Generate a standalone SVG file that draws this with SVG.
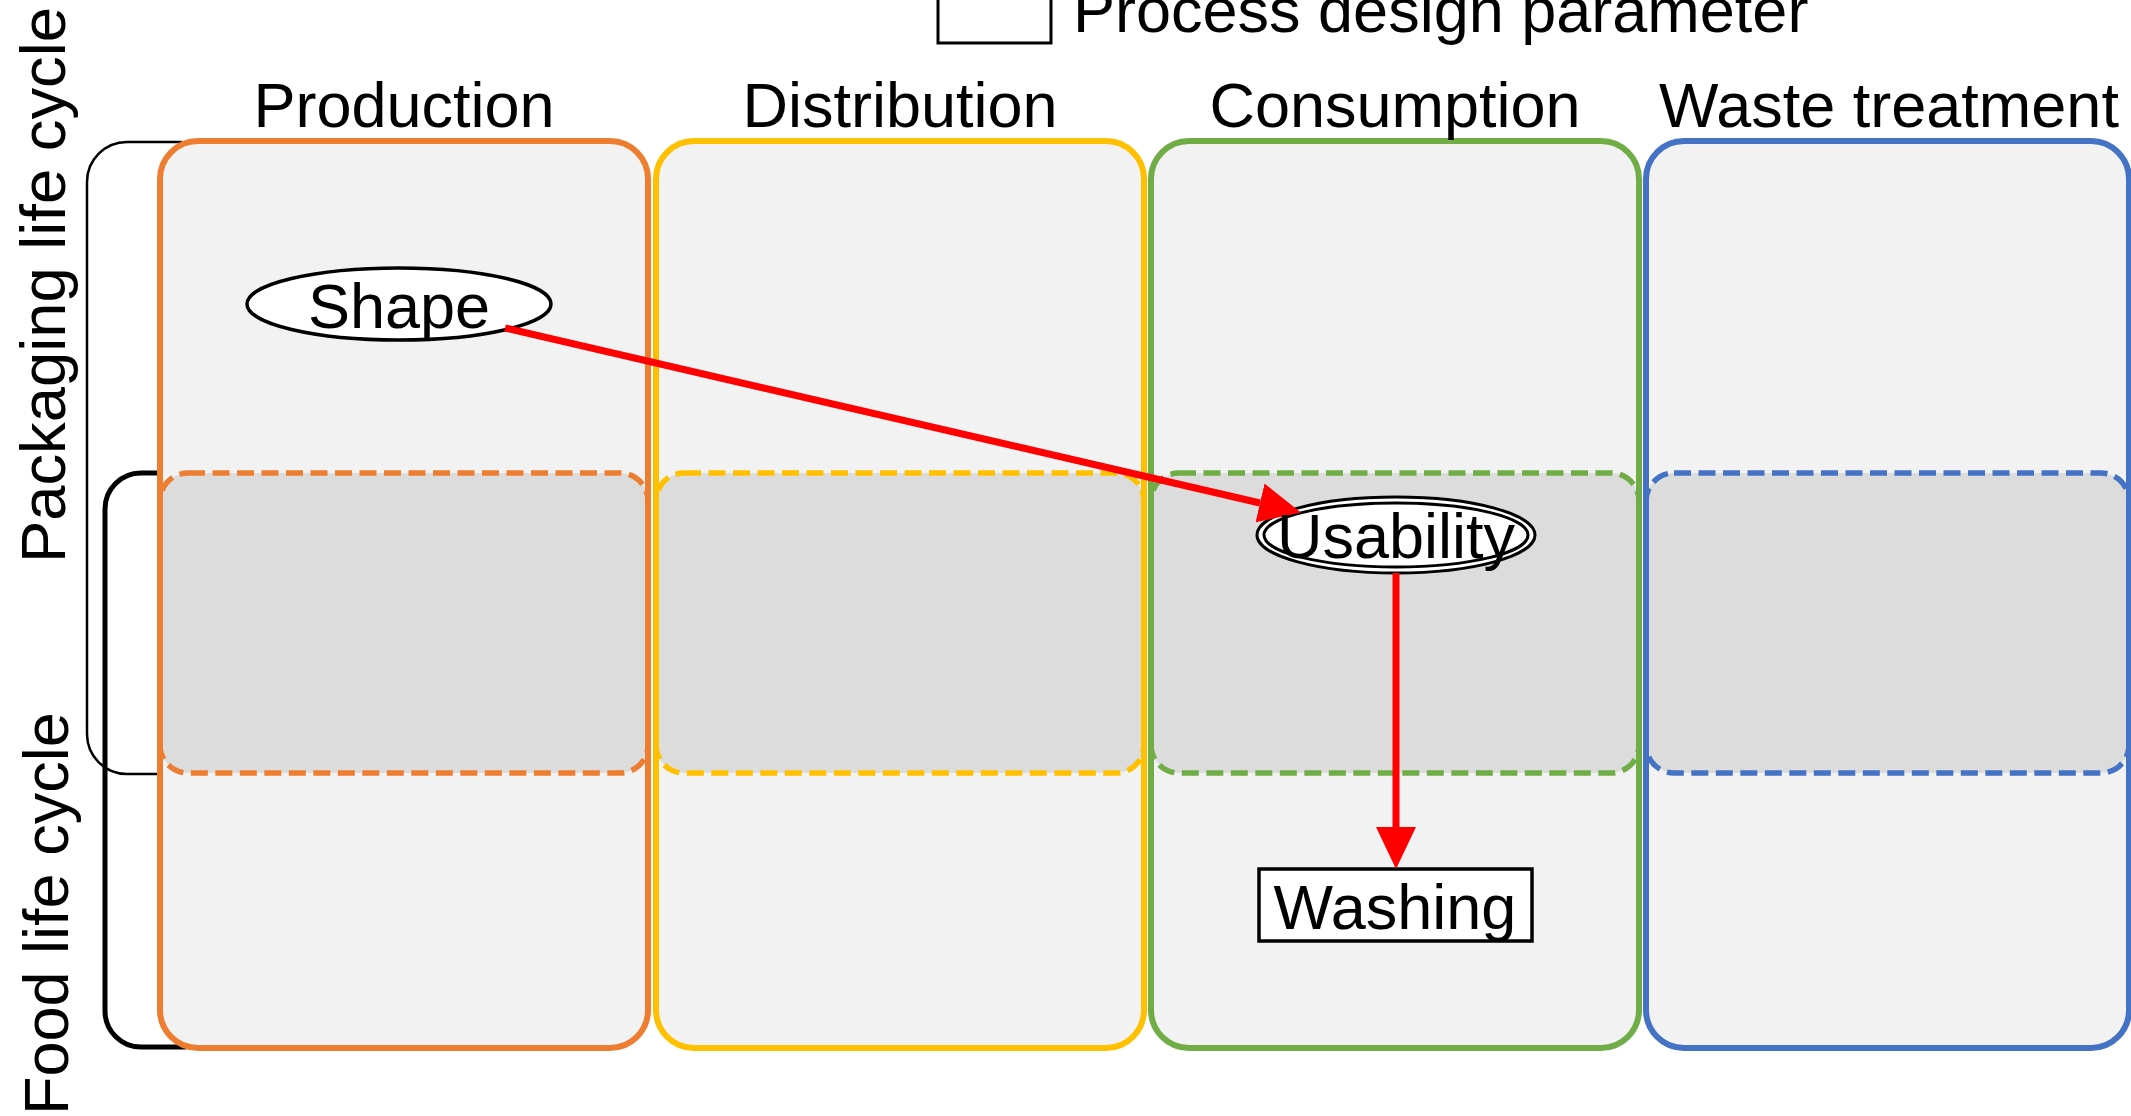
<svg xmlns="http://www.w3.org/2000/svg" width="2131" height="1116" viewBox="0 0 2131 1116">
<defs>
<style>
text{font-family:"Liberation Sans",Arial,sans-serif;font-size:63px;fill:#000}
.lbl{text-anchor:middle}
.fill{fill:#f2f2f2;stroke:none}
.solid{fill:none;stroke-width:6}
.dash{fill:#dcdcdc;stroke-width:5.5;stroke-dasharray:17 7.5}
.or{stroke:#ed7d31}.ye{stroke:#ffc000}.gr{stroke:#70ad47}.bl{stroke:#4472c4}
.conn{stroke:#ff0000;stroke-width:7;fill:none}
</style>
<marker id="ah" markerUnits="userSpaceOnUse" markerWidth="42" markerHeight="40" viewBox="0 0 42 40" refX="0" refY="20" orient="auto">
<path d="M0,0 L42,20 L0,40 z" fill="#ff0000"/>
</marker>
</defs>
<rect width="2131" height="1116" fill="#fff"/>

<g id="legend">
<rect x="938" y="-30" width="113" height="73" fill="none" stroke="#000" stroke-width="3"/>
<text x="1073" y="32">Process design parameter</text>
</g>

<g id="lifecycle-brackets">
<path id="packaging-bracket" d="M182,142 H127 A40,40 0 0 0 87,182 V734 A40,40 0 0 0 127,774 H182" fill="none" stroke="#000" stroke-width="2.5"/>
<path id="food-bracket" d="M190,473 H141 A36,36 0 0 0 105,509 V1011 A36,36 0 0 0 141,1047 H186" fill="none" stroke="#000" stroke-width="5"/>
<text transform="translate(65,563) rotate(-90)" textLength="556" lengthAdjust="spacingAndGlyphs">Packaging life cycle</text>
<text transform="translate(68,1115) rotate(-90)">Food life cycle</text>
</g>

<g id="stage-fills">
<rect class="fill" x="160" y="141" width="488" height="907" rx="38"/>
<rect class="fill" x="656" y="141" width="488" height="907" rx="38"/>
<rect class="fill" x="1151" y="141" width="488" height="907" rx="38"/>
<rect class="fill" x="1646" y="141" width="483" height="907" rx="38"/>
</g>

<g id="overlap-zone">
<rect class="dash or" x="160" y="473" width="488" height="300" rx="28"/>
<rect class="dash ye" x="656" y="473" width="488" height="300" rx="28"/>
<rect class="dash gr" x="1151" y="473" width="488" height="300" rx="28"/>
<rect class="dash bl" x="1646" y="473" width="483" height="300" rx="28"/>
</g>

<g id="production">
<rect class="solid or" x="160" y="141" width="488" height="907" rx="38"/>
<text class="lbl" x="404" y="127">Production</text>
</g>
<g id="distribution">
<rect class="solid ye" x="656" y="141" width="488" height="907" rx="38"/>
<text class="lbl" x="900" y="127">Distribution</text>
</g>
<g id="consumption">
<rect class="solid gr" x="1151" y="141" width="488" height="907" rx="38"/>
<text class="lbl" x="1395" y="127">Consumption</text>
</g>
<g id="waste-treatment">
<rect class="solid bl" x="1646" y="141" width="483" height="907" rx="38"/>
<text class="lbl" x="1889" y="127">Waste treatment</text>
</g>

<g id="shape">
<ellipse cx="399" cy="304" rx="152" ry="36" fill="#fff" stroke="#000" stroke-width="3.5"/>
<text class="lbl" x="399" y="328">Shape</text>
</g>
<g id="usability">
<ellipse cx="1396" cy="535" rx="139" ry="38" fill="#fff" stroke="#000" stroke-width="3"/>
<ellipse cx="1396" cy="535" rx="132" ry="32" fill="#fff" stroke="#000" stroke-width="3"/>
</g>
<g id="washing">
<rect x="1259" y="869" width="273" height="72" fill="#fff" stroke="#000" stroke-width="3.5"/>
<text class="lbl" x="1395" y="929">Washing</text>
</g>

<g id="connectors">
<line class="conn" x1="505" y1="328" x2="1260" y2="503" marker-end="url(#ah)"/>
<line class="conn" x1="1396" y1="573" x2="1396" y2="827" marker-end="url(#ah)"/>
</g>
<text class="lbl" x="1396" y="558">Usability</text>
</svg>
